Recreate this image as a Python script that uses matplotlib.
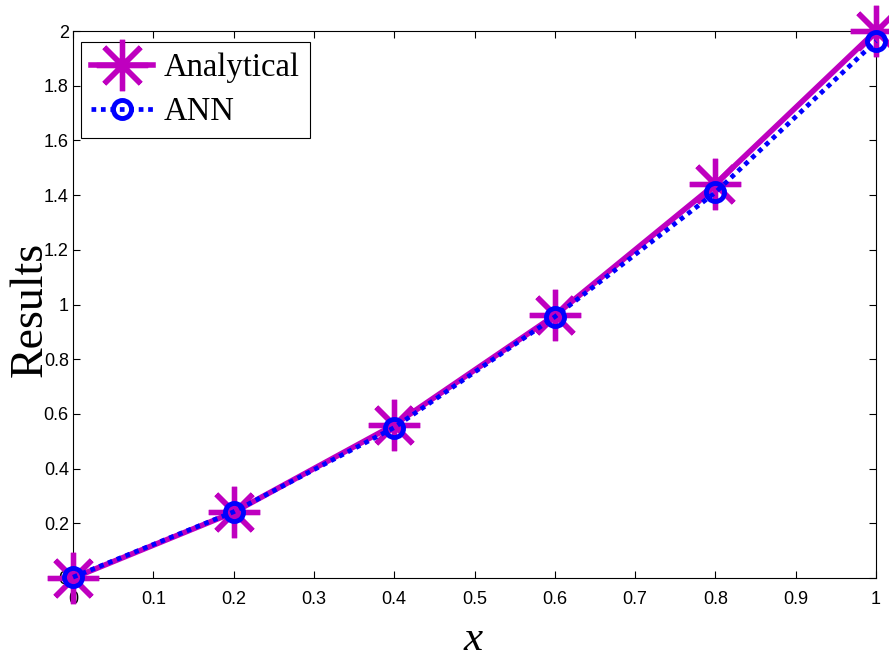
import matplotlib
matplotlib.use("Agg")
import matplotlib.pyplot as plt
from matplotlib.ticker import FixedLocator

# Data
x_vals = [0.0, 0.2, 0.4, 0.6, 0.8, 1.0]
analytical = [0.0, 0.24, 0.56, 0.96, 1.44, 2.0]
ann = [0.003, 0.242, 0.55, 0.955, 1.41, 1.963]

x_ticks = [0, 0.1, 0.2, 0.3, 0.4, 0.5, 0.6, 0.7, 0.8, 0.9, 1]
x_tick_labels = ["0", "0.1", "0.2", "0.3", "0.4", "0.5", "0.6", "0.7", "0.8", "0.9", "1"]
y_ticks = [0, 0.2, 0.4, 0.6, 0.8, 1.0, 1.2, 1.4, 1.6, 1.8, 2.0]
y_tick_labels = ["0", "0.2", "0.4", "0.6", "0.8", "1", "1.2", "1.4", "1.6", "1.8", "2"]

MAGENTA = "#BF00BF"
BLUE = "#0000FF"

fig = plt.figure(figsize=(8.89, 6.57), dpi=100)
ax = fig.add_axes([73 / 889, 1 - 578 / 657, 803 / 889, 547 / 657])

ax.plot(x_vals, analytical, color=MAGENTA, linewidth=4.0, linestyle="-",
        marker=(8, 2, 0), markersize=37, markeredgewidth=3.8,
        markeredgecolor=MAGENTA, clip_on=False, zorder=3, label="Analytical")
ax.plot(x_vals, ann, color=BLUE, linewidth=3.4, linestyle=(0, (1, 1)),
        marker="o", markersize=13, markeredgewidth=3.5,
        markeredgecolor=BLUE, markerfacecolor="none",
        clip_on=False, zorder=4, label="ANN")

ax.set_xlim(0, 1)
ax.set_ylim(0, 2)
ax.xaxis.set_major_locator(FixedLocator(x_ticks))
ax.yaxis.set_major_locator(FixedLocator(y_ticks))
ax.set_xticklabels(x_tick_labels)
ax.set_yticklabels(y_tick_labels)

ax.tick_params(axis="both", which="major", direction="in", length=5, width=0.8,
               top=True, right=True, labelsize=13, colors="black")
ax.tick_params(axis="x", pad=9)
ax.tick_params(axis="y", pad=3)
for lab in ax.get_xticklabels() + ax.get_yticklabels():
    lab.set_fontfamily("Liberation Sans")
for sp in ax.spines.values():
    sp.set_linewidth(0.8)
    sp.set_color("black")

ax.set_xlabel("x", fontfamily="Liberation Serif", fontstyle="italic",
              fontsize=31, va="baseline")
ax.xaxis.set_label_coords((473 - 73) / 803, (578 - 650) / 547)
ax.set_ylabel("Results", fontfamily="Liberation Serif", fontsize=33,
              va="baseline", rotation_mode="anchor")
ax.yaxis.set_label_coords((42 - 73) / 803, (578 - 309) / 547)

leg = ax.legend(loc="upper left",
                bbox_to_anchor=((81 - 73) / 803, (578 - 42) / 547),
                borderaxespad=0, frameon=True, fancybox=False, shadow=False,
                prop={"family": "Liberation Serif", "size": 23.5},
                handlelength=1.9, handletextpad=0.3, labelspacing=0.43,
                borderpad=0.32, markerscale=1.0)
leg.get_frame().set_edgecolor("black")
leg.get_frame().set_linewidth(0.8)
leg.get_frame().set_alpha(1.0)

fig.savefig("out.png", dpi=100)
